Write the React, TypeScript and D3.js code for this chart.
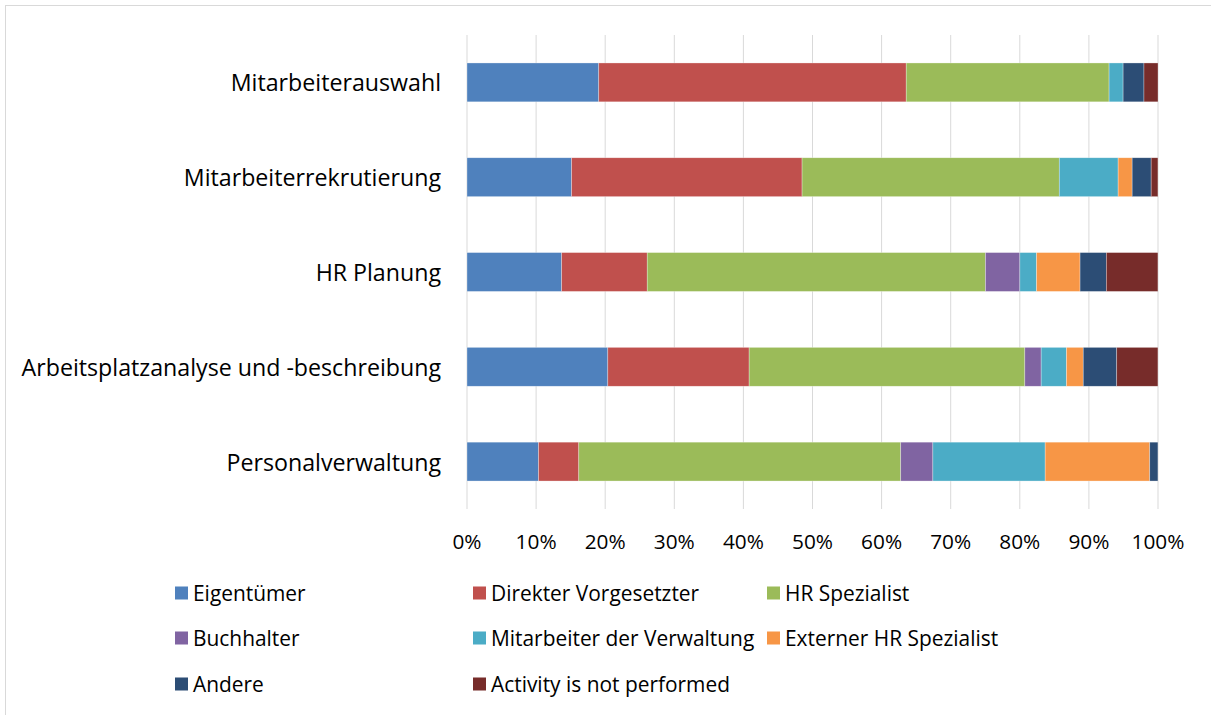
import React from "react";
import * as d3 from "d3";

const categories = [
  "Mitarbeiterauswahl",
  "Mitarbeiterrekrutierung",
  "HR Planung",
  "Arbeitsplatzanalyse und -beschreibung",
  "Personalverwaltung",
];

const seriesNames = [
  "Eigentümer",
  "Direkter Vorgesetzter",
  "HR Spezialist",
  "Buchhalter",
  "Mitarbeiter der Verwaltung",
  "Externer HR Spezialist",
  "Andere",
  "Activity is not performed",
];

const eigentuemer = [19.07, 15.14, 13.7, 20.38, 10.35];
const direkterVorgesetzter = [44.49, 33.35, 12.38, 20.45, 5.83];
const hrSpezialist = [29.36, 37.22, 48.95, 39.9, 46.59];
const buchhalter = [0, 0, 4.98, 2.36, 4.65];
const mitarbeiterVerwaltung = [2.03, 8.52, 2.42, 3.67, 16.25];
const externerHr = [0, 2.03, 6.29, 2.42, 15.14];
const andere = [3.02, 2.75, 3.8, 4.85, 1.18];
const notPerformed = [2.03, 0.98, 7.47, 5.96, 0];

const seriesValues = [
  eigentuemer,
  direkterVorgesetzter,
  hrSpezialist,
  buchhalter,
  mitarbeiterVerwaltung,
  externerHr,
  andere,
  notPerformed,
];

const colors = [
  "#4F81BD",
  "#C0504D",
  "#9BBB59",
  "#8064A2",
  "#4BACC6",
  "#F79646",
  "#2C4D75",
  "#772C2A",
];

const xTicks = [0, 10, 20, 30, 40, 50, 60, 70, 80, 90, 100];

const FONT = "'Open Sans', Lato, sans-serif";

export default function App() {
  const W = 1211;
  const H = 715;
  const plotLeft = 467;
  const plotRight = 1158;
  const plotTop = 35;
  const plotBottom = 509;

  const x = d3.scaleLinear().domain([0, 100]).range([plotLeft, plotRight]);
  const y = d3
    .scaleBand<string>()
    .domain(categories)
    .range([plotTop, plotBottom])
    .paddingInner(0.59)
    .paddingOuter(0.295);

  const rows = categories.map((c, i) => {
    const r: any = { category: c };
    seriesNames.forEach((s, j) => (r[s] = seriesValues[j][i]));
    return r;
  });
  const stacked = d3.stack<any>().keys(seriesNames)(rows);

  const legendCols = [175, 473, 767];
  const legendRows = [593, 638, 684];

  return (
    <svg
      width={W}
      height={H}
      style={{ position: "absolute", left: 0, top: 0, background: "#fff" }}
      fontFamily={FONT}
    >
      <rect x={0} y={0} width={W} height={H} fill="#fff" />
      <rect
        x={5.5}
        y={5.5}
        width={W + 10}
        height={H + 10}
        fill="none"
        stroke="#d9d9d9"
        strokeWidth={1}
      />
      {xTicks.map((t) => (
        <line
          key={t}
          x1={x(t)}
          x2={x(t)}
          y1={plotTop}
          y2={plotBottom}
          stroke="#d9d9d9"
          strokeWidth={1}
        />
      ))}
      {stacked.map((layer, j) => (
        <g key={layer.key} fill={colors[j]}>
          {layer.map((d, i) =>
            d[1] - d[0] > 0 ? (
              <rect
                key={i}
                x={x(d[0])}
                y={y(categories[i])}
                width={x(d[1]) - x(d[0])}
                height={y.bandwidth()}
                stroke="#ffffff"
                strokeOpacity={0.5}
                strokeWidth={0.6}
              />
            ) : null
          )}
        </g>
      ))}
      {categories.map((c) => (
        <text
          key={c}
          x={441}
          y={(y(c) as number) + y.bandwidth() / 2}
          textAnchor="end"
          dominantBaseline="central"
          fontSize={23.2}
          fill="#000"
        >
          {c}
        </text>
      ))}
      {xTicks.map((t) => (
        <text
          key={t}
          x={x(t)}
          y={541}
          textAnchor="middle"
          dominantBaseline="central"
          fontSize={20.8}
          fill="#000"
        >
          {t}%
        </text>
      ))}
      {seriesNames.map((s, j) => {
        const cx = legendCols[j % 3];
        const cy = legendRows[Math.floor(j / 3)];
        return (
          <g key={s}>
            <rect x={cx} y={cy - 6.5} width={13} height={13} fill={colors[j]} />
            <text
              x={cx + 18}
              y={cy}
              dominantBaseline="central"
              fontSize={20.9}
              fill="#000"
            >
              {s}
            </text>
          </g>
        );
      })}
    </svg>
  );
}
